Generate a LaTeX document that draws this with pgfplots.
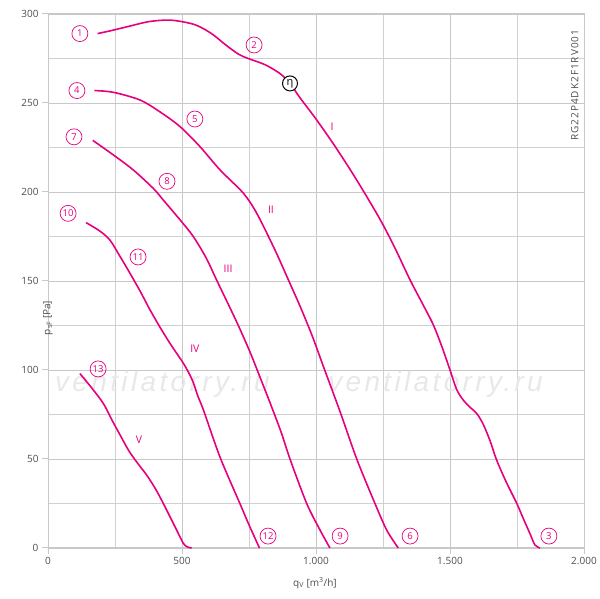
\documentclass[border=0pt]{standalone}
\usepackage{fontspec}
\setmainfont{Open Sans}
\newfontfamily\wmfont[LetterSpace=12]{Liberation Sans}
\usepackage{pgfplots}
\pgfplotsset{compat=1.18}
\definecolor{mag}{HTML}{E6007E}
\definecolor{txt}{HTML}{4D4D4D}
\definecolor{grd}{HTML}{C8C8C8}
\tikzset{
 circ/.style={circle, draw=mag, line width=0.7pt, inner sep=0pt, minimum size=16pt, text=mag, font=\fontsize{9.5}{10}\selectfont},
 rom/.style={text=mag, font=\fontsize{10.5}{12}\selectfont},
 crv/.style={mag, line width=1.6pt, smooth, mark=none},
 wm/.style={text=gray!18, font=\wmfont\itshape\fontsize{28}{30}\selectfont, anchor=base west, inner sep=0pt},
}
\begin{document}
\begin{tikzpicture}
\begin{axis}[
 scale only axis, width=536pt, height=534pt,
 xmin=0,xmax=2000,ymin=0,ymax=300,
 xtick={0,500,...,2000}, ytick={0,50,...,300},
 minor xtick={250,750,1250,1750}, minor ytick={25,75,...,275},
 grid=both, grid style={grd, line width=0.8pt}, minor grid style={grd!85, line width=0.8pt},
 axis line style={grd, line width=1pt},
 tick pos=left, tick align=outside, major tick length=6pt, minor tick length=0pt,
 tick style={grd, line width=1pt},
 ticklabel style={font=\fontsize{10}{12}\selectfont, text=txt},
 /pgf/number format/assume math mode=true,
 /pgf/number format/1000 sep={.},
 xlabel={q\textsubscript{V} [m\textsuperscript{3}/h]},
 ylabel={p\textsubscript{sF} [Pa]},
 xlabel style={at={(axis description cs:0.498,0)}, anchor=center, yshift=-35pt, font=\fontsize{10}{12}\selectfont, text=txt},
 ylabel style={at={(axis description cs:0,0.502)}, anchor=center, xshift=-38pt, font=\fontsize{10}{12}\selectfont, text=txt},
 clip=false,
]
% watermark
\node[wm] at (axis cs:26,88.2) {ventilatorry.ru};
\node[wm] at (axis cs:1045,88.2) {ventilatorry.ru};

% I
\addplot[crv] coordinates {(185,289)(231,290.5)(300,293)(380,295.8)(461,296.5)(548,294)(610,289)(660,283)(710,277.5)(747,275)(810,271.5)(866,266.5)(903,261)(940,253)(1000,241)(1065,227)(1130,212)(1189,197.5)(1245,183)(1295,168.4)(1351,150.6)(1400,136.5)(1438,125.3)(1470,113)(1500,100)(1525,89)(1550,83)(1575,79)(1600,75.5)(1624,69.5)(1650,60)(1674,49.4)(1710,37)(1749,25.1)(1775,16)(1798,8.2)(1817,1.7)(1836,0)};
% II
\addplot[crv] coordinates {(173,257)(244,256)(343,251.7)(418,245)(493,236.7)(567,225.5)(642,212.4)(729,199.3)(779,188)(847,167.4)(897,150.6)(940,136)(985,119.5)(1030,101)(1090,76.5)(1152,50)(1220,25)(1264,10)(1307,0)};
% III
\addplot[crv] coordinates {(167,229)(244,220.8)(318,212.4)(393,202)(430,195.5)(493,184.3)(542,175)(590,163)(629,150.6)(704,127)(754,110)(791,96)(830,81)(870,65)(903,50)(965,25.1)(1015,10.1)(1052,0)};
% IV
\addplot[crv] coordinates {(142,182.8)(194,178)(231,173)(268,164)(306,154.3)(343,144.5)(381,133.7)(418,124)(455,115)(480,109.4)(505,103.8)(525,98.5)(542,93)(560,85)(580,77.5)(642,51)(716,25)(750,13)(789,0)};
% V
\addplot[crv] coordinates {(119,98)(160,90.5)(206,81.3)(240,71.5)(269,63.5)(300,55)(318,51)(340,46.5)(368,41)(400,33.5)(430,25.1)(480,10.1)(505,2.6)(520,0.6)(536,0)};

\node[circ] at (axis cs:119,289) {1};
\node[circ] at (axis cs:769,282.6) {2};
\node[circ] at (axis cs:1869,6.7) {3};
\node[circ] at (axis cs:108,257) {4};
\node[circ] at (axis cs:548,241) {5};
\node[circ] at (axis cs:1351,6.7) {6};
\node[circ] at (axis cs:97,231) {7};
\node[circ] at (axis cs:444,206) {8};
\node[circ] at (axis cs:1090,6.7) {9};
\node[circ] at (axis cs:75,188) {10};
\node[circ] at (axis cs:336,163.5) {11};
\node[circ] at (axis cs:821,6.7) {12};
\node[circ] at (axis cs:187,100.6) {13};
\node[circle, draw=black, line width=1pt, fill=white, inner sep=0pt, minimum size=15pt, font=\fontsize{11}{12}\selectfont] at (axis cs:903,261) {η};

\node[rom] at (axis cs:1060,236.5) {I};
\node[rom] at (axis cs:832,190) {II};
\node[rom] at (axis cs:672,157) {III};
\node[rom] at (axis cs:548,112) {IV};
\node[rom] at (axis cs:340,60.7) {V};

\node[rotate=90, text=txt, font=\fontsize{10}{12}\selectfont\addfontfeature{LetterSpace=10}] at (axis cs:1966,260) {RG22P4DK2F1RV001};
\end{axis}
\pgfresetboundingbox
\path[use as bounding box] (-48pt,-51pt) rectangle (552pt,548pt);
\end{tikzpicture}
\end{document}
